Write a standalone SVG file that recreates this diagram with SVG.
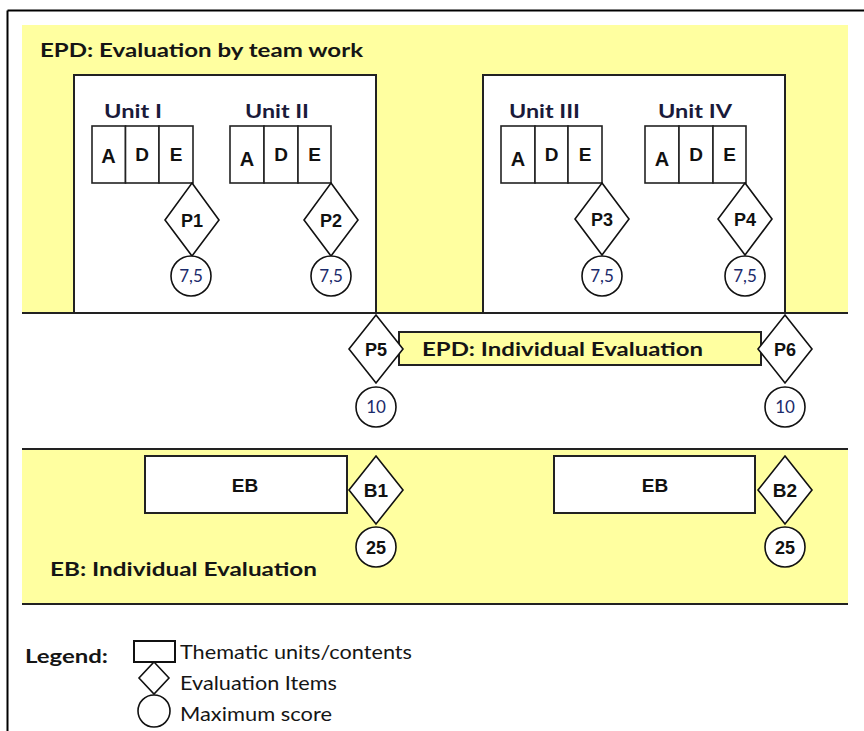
<svg xmlns="http://www.w3.org/2000/svg" width="864" height="731" viewBox="0 0 864 731">
<style>
.band{fill:#FFFFA0;stroke:none}
.bl{stroke:#222;stroke-width:2;fill:none}
.wbox{fill:#fff;stroke:#222;stroke-width:2}
.cell{fill:#fff;stroke:#222;stroke-width:1.6}
.dia{fill:#fff;stroke:#111;stroke-width:1.6}
.circ{fill:#fff;stroke:#111;stroke-width:1.6}
.cal{font-family:Lato,"Open Sans",sans-serif;fill:#151515}
.calb{font-family:Lato,"Open Sans",sans-serif;font-weight:bold;fill:#151515}
.ar{font-family:"Liberation Sans",Arial,sans-serif;font-weight:bold;fill:#111;text-anchor:middle}
.num{font-family:Lato,"Open Sans",sans-serif;fill:#1a2a6a;font-size:17px;text-anchor:middle}
.unit{font-family:Lato,"Open Sans",sans-serif;font-weight:bold;fill:#1a1a3a;font-size:19px}
</style>
<g id="frame">
<line x1="7.5" y1="10.5" x2="864" y2="10.5" stroke="#000" stroke-width="2"/>
<line x1="7.5" y1="10.5" x2="7.5" y2="731" stroke="#000" stroke-width="2"/>
</g>
<g id="band-epd-team">
<rect class="band" x="22" y="25" width="826" height="288"/>
<line class="bl" x1="22" y1="313" x2="848" y2="313"/>
<text class="calb" x="40" y="57" font-size="19" textLength="323" lengthAdjust="spacingAndGlyphs">EPD: Evaluation by team work</text>
</g>
<g id="band-eb">
<rect class="band" x="22" y="449" width="826" height="155"/>
<line class="bl" x1="22" y1="449" x2="848" y2="449"/>
<line class="bl" x1="22" y1="604" x2="848" y2="604"/>
<text class="calb" x="50" y="576" font-size="19" textLength="267" lengthAdjust="spacingAndGlyphs">EB: Individual Evaluation</text>
</g>
<g id="team-box-1"><rect class="wbox" x="74" y="75" width="302" height="238"/></g>
<g id="team-box-2"><rect class="wbox" x="483" y="75" width="302" height="238"/></g>
<g id="connectors"></g>
<g id="unit-1">
<text class="unit" x="104" y="118" textLength="58" lengthAdjust="spacingAndGlyphs">Unit I</text>
<rect class="cell" x="92" y="126" width="33.5" height="57"/>
<rect class="cell" x="125.5" y="126" width="33.5" height="57"/>
<rect class="cell" x="159" y="126" width="34" height="57"/>
<text class="ar" x="108.5" y="163" font-size="20">A</text>
<text class="ar" x="142" y="161" font-size="19">D</text>
<text class="ar" x="176" y="161" font-size="19">E</text>
</g>
<g id="unit-2">
<text class="unit" x="245" y="118" textLength="64" lengthAdjust="spacingAndGlyphs">Unit II</text>
<rect class="cell" x="230" y="126" width="34" height="57"/>
<rect class="cell" x="264" y="126" width="34" height="57"/>
<rect class="cell" x="298" y="126" width="33" height="57"/>
<text class="ar" x="247" y="166" font-size="20">A</text>
<text class="ar" x="281" y="161" font-size="19">D</text>
<text class="ar" x="314.5" y="161" font-size="19">E</text>
</g>
<g id="unit-3">
<text class="unit" x="509" y="118" textLength="71" lengthAdjust="spacingAndGlyphs">Unit III</text>
<rect class="cell" x="501" y="126" width="34" height="57"/>
<rect class="cell" x="535" y="126" width="33" height="57"/>
<rect class="cell" x="568" y="126" width="34" height="57"/>
<text class="ar" x="518" y="166" font-size="20">A</text>
<text class="ar" x="551.5" y="161" font-size="19">D</text>
<text class="ar" x="585" y="161" font-size="19">E</text>
</g>
<g id="unit-4">
<text class="unit" x="658" y="118" textLength="74" lengthAdjust="spacingAndGlyphs">Unit IV</text>
<rect class="cell" x="645" y="126" width="34" height="57"/>
<rect class="cell" x="679" y="126" width="34" height="57"/>
<rect class="cell" x="713" y="126" width="33" height="57"/>
<text class="ar" x="662" y="166" font-size="20">A</text>
<text class="ar" x="696" y="161" font-size="19">D</text>
<text class="ar" x="729.5" y="161" font-size="19">E</text>
</g>
<g id="p1">
<polygon class="dia" points="192,183 219,220 192,256 165,220"/>
<text class="ar" x="192" y="227" font-size="18">P1</text>
</g>
<g id="s1"><circle class="circ" cx="191" cy="276" r="20"/><text class="num" x="191" y="282">7,5</text></g>
<g id="p2">
<polygon class="dia" points="331,183 358,220 331,256 304,220"/>
<text class="ar" x="331" y="227" font-size="18">P2</text>
</g>
<g id="s2"><circle class="circ" cx="331" cy="276" r="20"/><text class="num" x="331" y="282">7,5</text></g>
<g id="p3">
<polygon class="dia" points="602,183 629,219 602,255 575,219"/>
<text class="ar" x="602" y="226" font-size="18">P3</text>
</g>
<g id="s3"><circle class="circ" cx="602" cy="276" r="20"/><text class="num" x="602" y="282">7,5</text></g>
<g id="p4">
<polygon class="dia" points="745,183 772,219 745,255 718,219"/>
<text class="ar" x="745" y="226" font-size="18">P4</text>
</g>
<g id="s4"><circle class="circ" cx="745" cy="276" r="20"/><text class="num" x="745" y="282">7,5</text></g>
<g id="epd-individual">
<rect x="399" y="332" width="362" height="33" fill="#FFFFA0" stroke="#222" stroke-width="2"/>
<text class="calb" x="422" y="356" font-size="19" textLength="281" lengthAdjust="spacingAndGlyphs">EPD: Individual Evaluation</text>
</g>
<g id="p5">
<polygon class="dia" points="376,315 403,349 376,383 349,349"/>
<text class="ar" x="376" y="356" font-size="18">P5</text>
</g>
<g id="s5"><circle class="circ" cx="376" cy="407" r="20"/><text class="num" x="376" y="413">10</text></g>
<g id="p6">
<polygon class="dia" points="785,315 812,349 785,383 758,349"/>
<text class="ar" x="785" y="356" font-size="18">P6</text>
</g>
<g id="s6"><circle class="circ" cx="785" cy="407" r="20"/><text class="num" x="785" y="413">10</text></g>
<g id="eb-1">
<rect class="wbox" x="145" y="456" width="202" height="57"/>
<text class="ar" x="245" y="492" font-size="19">EB</text>
</g>
<g id="b1">
<polygon class="dia" points="376,456 403,490 376,524 349,490"/>
<text class="ar" x="376" y="497" font-size="19">B1</text>
</g>
<g id="sb1"><circle class="circ" cx="376" cy="547" r="20"/><text class="ar" x="376" y="554" font-size="18">25</text></g>
<g id="eb-2">
<rect class="wbox" x="554" y="456" width="201" height="57"/>
<text class="ar" x="655" y="492" font-size="19">EB</text>
</g>
<g id="b2">
<polygon class="dia" points="785,456 812,490 785,524 758,490"/>
<text class="ar" x="785" y="497" font-size="19">B2</text>
</g>
<g id="sb2"><circle class="circ" cx="785" cy="547" r="20"/><text class="ar" x="785" y="554" font-size="18">25</text></g>
<g id="legend">
<text class="calb" x="25" y="663" font-size="19" textLength="83" lengthAdjust="spacingAndGlyphs">Legend:</text>
<rect x="134" y="641" width="41" height="21" fill="#fff" stroke="#111" stroke-width="2"/>
<polygon points="154,662 169,678 154,694 139,678" fill="#fff" stroke="#111" stroke-width="1.6"/>
<circle cx="154" cy="711" r="16" fill="#fff" stroke="#111" stroke-width="1.6"/>
<text class="cal" x="180" y="659" font-size="19" textLength="232" lengthAdjust="spacingAndGlyphs">Thematic  units/contents</text>
<text class="cal" x="180" y="690" font-size="19" textLength="157" lengthAdjust="spacingAndGlyphs">Evaluation  Items</text>
<text class="cal" x="180" y="721" font-size="19" textLength="152" lengthAdjust="spacingAndGlyphs">Maximum score</text>
</g>
</svg>
